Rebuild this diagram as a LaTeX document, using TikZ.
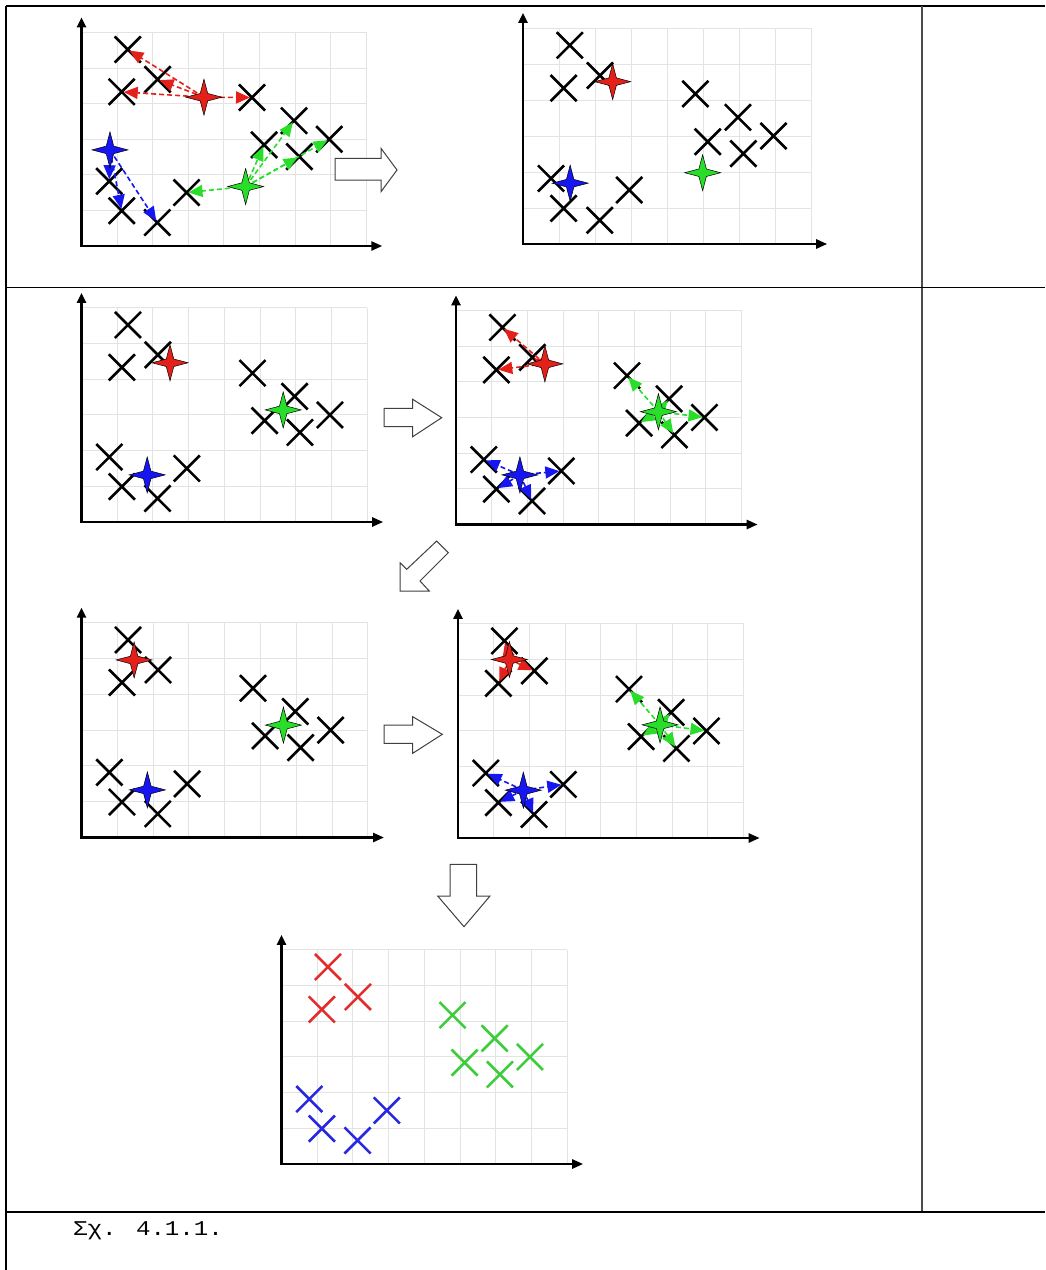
\documentclass[tikz,border=0pt]{standalone}
\usepackage{fontspec}
\newfontfamily\capfont{Liberation Mono}
\usetikzlibrary{shapes.geometric,shapes.misc,arrows.meta}
\definecolor{kred}{RGB}{228,32,26}
\definecolor{kgreen}{RGB}{40,222,40}
\definecolor{kblue}{RGB}{22,22,240}
\definecolor{fred}{RGB}{226,45,45}
\definecolor{fgreen}{RGB}{60,205,60}
\definecolor{fblue}{RGB}{40,40,225}
\newcommand\kmgrid{%
  \foreach \i in {1,...,8} \draw[gridl] (\i,0) -- (\i,6);
  \foreach \j in {1,...,6} \draw[gridl] (0,\j) -- (8,\j);
  \draw[axisl] (0,6.42) -- (0,0) -- (8.45,0);}
\newcommand\kmcrosses[2]{%
  \foreach \n/\px/\py in {1/1.30/5.52,2/1.13/4.33,3/2.14/4.68,4/4.79/4.17,5/5.97/3.52,6/5.13/2.84,7/6.12/2.51,8/6.96/3.00,9/2.95/1.50,10/0.78/1.82,11/1.13/0.99,12/2.13/0.66}
    \node[xmark,#2] (#1\n) at (\px,\py) {};}
\begin{document}
\begin{tikzpicture}[x=1pt,y=-1pt,
  gridl/.style={draw=black!11, line width=0.9pt},
  axisl/.style={line width=2.5pt, {Triangle[length=10pt,width=9pt]}-{Triangle[length=11pt,width=9pt]}},
  xmark/.style={cross out, draw=black, line width=2.6pt, minimum size=23.5pt, inner sep=0pt},
  cstar/.style={star, star points=4, star point ratio=3.4, minimum size=36pt, inner sep=0pt, draw=black, line width=0.5pt},
  darr/.style={line width=1.6pt, dash pattern=on 5pt off 3pt, -{Triangle[length=14pt,width=12pt]}, shorten >=2pt},
  blockarr/.style={draw=black!75, line width=1pt, fill=white},
  tabl/.style={line width=2pt}
]
\useasboundingbox (0,0) rectangle (1045,1270);
% table
\draw[tabl] (6,6) -- (1045,6);
\draw[tabl] (6,6) -- (6,1270);
\draw[line width=2pt, draw=black!70] (922,6) -- (922,1212);
\draw[line width=1.6pt] (6,287.5) -- (1045,287.5);
\draw[tabl] (6,1212) -- (1045,1212);
\node[font=\capfont\fontsize{21}{25}\selectfont, anchor=base west, inner sep=0pt, xscale=1.15, transform shape] (cap) at (73,1235.5) {Σχ. 4.1.1.};

% plot 1
\begin{scope}[shift={(81.5pt,-246pt)}, x=35.6pt, y=35.6pt]
  \kmgrid
  \kmcrosses{a}{}
  \coordinate (ar) at (3.44,4.18);
  \coordinate (ag) at (4.61,1.67);
  \coordinate (ab) at (0.80,2.70);
  \foreach \t in {1,2,3,4} \draw[darr, kred] (ar) -- (a\t.center);
  \foreach \t in {9,5,6,7,8} \draw[darr, kgreen] (ag) -- (a\t.center);
  \foreach \t in {10,11,12} \draw[darr, kblue] (ab) -- (a\t.center);
  \node[cstar, fill=kred] (ars) at (ar) {};
  \node[cstar, fill=kgreen] (ags) at (ag) {};
  \node[cstar, fill=kblue] (abs) at (ab) {};
\end{scope}

% plot 2
\begin{scope}[shift={(523pt,-244pt)}, x=36pt, y=36pt]
  \kmgrid
  \kmcrosses{b}{}
  \node[cstar, fill=kred] (brs) at (2.49,4.51) {};
  \node[cstar, fill=kgreen] (bgs) at (4.99,1.98) {};
  \node[cstar, fill=kblue] (bbs) at (1.31,1.69) {};
\end{scope}

% plot 3
\begin{scope}[shift={(81.5pt,-522pt)}, x=35.7pt, y=35.7pt]
  \kmgrid
  \kmcrosses{c}{}
  \node[cstar, fill=kred] (crs) at (2.48,4.46) {};
  \node[cstar, fill=kgreen] (cgs) at (5.65,3.14) {};
  \node[cstar, fill=kblue] (cbs) at (1.84,1.32) {};
\end{scope}

% plot 4
\begin{scope}[shift={(456pt,-524.5pt)}, x=35.7pt, y=35.7pt]
  \kmgrid
  \kmcrosses{d}{}
  \coordinate (dr) at (2.49,4.50);
  \coordinate (dg) at (5.67,3.16);
  \coordinate (db) at (1.79,1.39);
  \foreach \t in {1,2,3} \draw[darr, kred] (dr) -- (d\t.center);
  \foreach \t in {4,5,6,7,8} \draw[darr, kgreen] (dg) -- (d\t.center);
  \foreach \t in {9,10,11,12} \draw[darr, kblue] (db) -- (d\t.center);
  \node[cstar, fill=kred] (drs) at (dr) {};
  \node[cstar, fill=kgreen] (dgs) at (dg) {};
  \node[cstar, fill=kblue] (dbs) at (db) {};
\end{scope}

% plot 5
\begin{scope}[shift={(81.5pt,-837.5pt)}, x=35.8pt, y=35.8pt]
  \kmgrid
  \kmcrosses{e}{}
  \node[cstar, fill=kred] (ers) at (1.47,4.96) {};
  \node[cstar, fill=kgreen] (egs) at (5.64,3.14) {};
  \node[cstar, fill=kblue] (ebs) at (1.84,1.33) {};
\end{scope}

% plot 6
\begin{scope}[shift={(458pt,-838pt)}, x=35.7pt, y=35.7pt]
  \kmgrid
  \kmcrosses{f}{}
  \coordinate (fr) at (1.44,5.00);
  \coordinate (fg) at (5.66,3.17);
  \coordinate (fb) at (1.83,1.34);
  \foreach \t in {1,2,3} \draw[darr, kred] (fr) -- (f\t.center);
  \foreach \t in {4,5,6,7,8} \draw[darr, kgreen] (fg) -- (f\t.center);
  \foreach \t in {9,10,11,12} \draw[darr, kblue] (fb) -- (f\t.center);
  \node[cstar, fill=kred] (frs) at (fr) {};
  \node[cstar, fill=kgreen] (fgs) at (fg) {};
  \node[cstar, fill=kblue] (fbs) at (fb) {};
\end{scope}

% plot 7
\begin{scope}[shift={(281.5pt,-1164pt)}, x=35.7pt, y=35.7pt]
  \kmgrid
  \foreach \n/\px/\py in {1/1.30/5.52,2/1.13/4.33,3/2.14/4.68}
    \node[xmark, draw=fred] (g\n) at (\px,\py) {};
  \foreach \n/\px/\py in {4/4.79/4.17,5/5.97/3.52,6/5.13/2.84,7/6.12/2.51,8/6.96/3.00}
    \node[xmark, draw=fgreen] (g\n) at (\px,\py) {};
  \foreach \n/\px/\py in {9/2.95/1.50,10/0.78/1.82,11/1.13/0.99,12/2.13/0.66}
    \node[xmark, draw=fblue] (g\n) at (\px,\py) {};
\end{scope}

% block arrows
\draw[blockarr] (335,158.3) -- (381,158.3) -- (381,148.3) -- (397,170) -- (381,191.7) -- (381,180) -- (335,180) -- cycle;
\draw[blockarr] (384,408.3) -- (412.7,408.3) -- (412.7,399.3) -- (441.7,417.7) -- (412.7,436.7) -- (412.7,426.7) -- (384,426.7) -- cycle;
\draw[blockarr] (400,591) -- (400,562.7) -- (406.7,569.3) -- (436.7,541) -- (448.3,552.7) -- (420,581) -- (429.3,591) -- cycle;
\draw[blockarr] (384,725) -- (412.7,725) -- (412.7,716.7) -- (442.3,734.3) -- (412.7,753.3) -- (412.7,743.3) -- (384,743.3) -- cycle;
\draw[blockarr] (450,864.3) -- (476.7,864.3) -- (476.7,896) -- (490,896) -- (464,926.7) -- (437.7,896) -- (450,896) -- cycle;
\end{tikzpicture}
\end{document}
